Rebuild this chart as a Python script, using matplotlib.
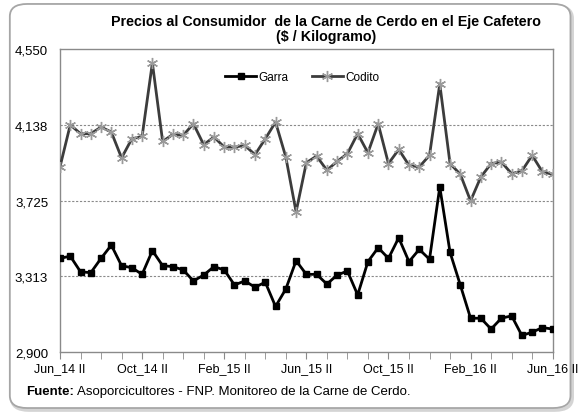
import numpy as np
import matplotlib.pyplot as plt
from matplotlib.patches import FancyBboxPatch

plt.rcParams['font.family'] = ['Liberation Sans', 'DejaVu Sans']

# precios quincenales, Jun_14 II ... Jun_16 II (49 quincenas)
garra = [3410, 3422, 3337, 3332, 3410, 3482, 3370, 3359, 3323, 3452,
         3370, 3365, 3347, 3287, 3319, 3365, 3347, 3265, 3287, 3253,
         3280, 3148, 3243, 3397, 3323, 3323, 3270, 3319, 3341, 3211,
         3392, 3468, 3410, 3522, 3392, 3459, 3405, 3799, 3443, 3265,
         3084, 3084, 3025, 3084, 3097, 2990, 3008, 3033, 3025]
codito = [3908, 4137, 4089, 4089, 4125, 4098, 3957, 4061, 4074, 4474,
          4047, 4085, 4080, 4143, 4029, 4071, 4016, 4016, 4025, 3975,
          4061, 4152, 3962, 3663, 3931, 3967, 3890, 3938, 3980, 4089,
          3985, 4143, 3926, 4003, 3917, 3908, 3971, 4360, 3926, 3868,
          3723, 3853, 3926, 3935, 3871, 3886, 3971, 3881, 3868]

tick_labels = ["Jun_14 II", "Oct_14 II", "Feb_15 II", "Jun_15 II",
               "Oct_15 II", "Feb_16 II", "Jun_16 II"]
y_ticks = [2900, 3313, 3725, 4138, 4550]

fig = plt.figure(figsize=(5.78, 4.14), dpi=100)

# borde redondeado del area del grafico (con sombra)
shadow = FancyBboxPatch((0.020, 0.007), 0.97, 0.976,
                        boxstyle="round,pad=0,rounding_size=0.03",
                        transform=fig.transFigure, facecolor='none',
                        edgecolor='#d4d4d4', linewidth=2.5, zorder=0)
border = FancyBboxPatch((0.017, 0.012), 0.97, 0.976,
                        boxstyle="round,pad=0,rounding_size=0.03",
                        transform=fig.transFigure, facecolor='white',
                        edgecolor='#a6a6a6', linewidth=1.3, zorder=0)
fig.patches.append(shadow)
fig.patches.append(border)

ax = fig.add_axes([0.1038, 0.1473, 0.8524, 0.7319])
ax.set_zorder(2)
ax.patch.set_alpha(0)
x = np.arange(len(garra))

ax.plot(x, garra, color='black', lw=2, marker='s', ms=4.5,
        mfc='black', mec='black', label='Garra', zorder=3)
ax.plot(x, codito, color='#3c3c3c', lw=2, marker=(6, 2, 0), ms=8,
        mec='#9a9a9a', mew=1.0, label='Codito', zorder=3)

ax.set_xlim(0, len(garra) - 1)
ax.set_ylim(2900, 4550)

ax.set_yticks(y_ticks)
ax.set_yticklabels([f"{v:,}" for v in y_ticks], fontsize=9.5)
ax.tick_params(axis='y', length=0, pad=8.5)
for v in y_ticks[1:-1]:
    ax.axhline(v, color='#8a8a8a', lw=0.8, ls=(0, (2, 1.5)), zorder=1)

ax.set_xticks(x[::8])
ax.set_xticklabels(tick_labels, fontsize=9)
ax.set_xticks(x[::2], minor=True)
ax.tick_params(axis='x', which='both', direction='out', length=5,
               color='#8a8a8a', pad=2)

for s in ax.spines.values():
    s.set_color('#8a8a8a')
    s.set_linewidth(1.0)

ax.legend(loc='upper center', bbox_to_anchor=(0.492, 0.962), ncol=2,
          frameon=False, fontsize=8.5, handlelength=2.6, columnspacing=2.0,
          handletextpad=0.2)

fig.text(0.5635, 0.948, "Precios al Consumidor  de la Carne de Cerdo en el Eje Cafetero",
         ha='center', va='center', fontsize=10.3, fontweight='bold')
fig.text(0.5635, 0.910, "($ / Kilogramo)", ha='center', va='center',
         fontsize=10.3, fontweight='bold')

fig.text(0.045, 0.054, "Fuente:", ha='left', va='center', fontsize=9.5,
         fontweight='bold')
fig.text(0.133, 0.054, "Asoporcicultores - FNP. Monitoreo de la Carne de Cerdo.",
         ha='left', va='center', fontsize=9.5)

fig.savefig('out.png', dpi=100)
